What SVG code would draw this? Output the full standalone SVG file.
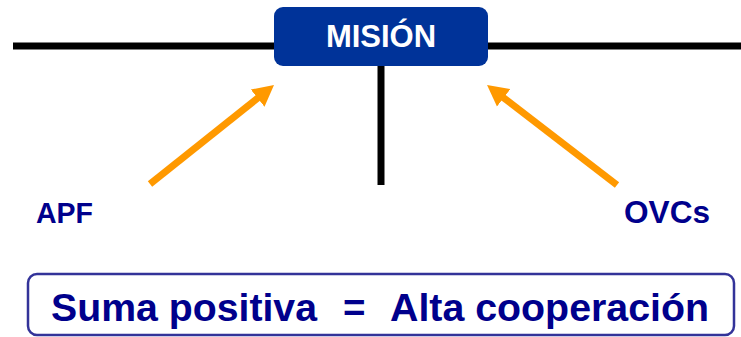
<svg xmlns="http://www.w3.org/2000/svg" width="741" height="337" viewBox="0 0 741 337">
  <style>
    .bar { stroke: #000000; stroke-width: 7; fill: none; }
    .arrow { stroke: #FF9900; stroke-width: 7; fill: none; marker-end: url(#head); }
    .lbl { font-family: "Liberation Sans", Arial, sans-serif; font-weight: bold; fill: #00008C; }
    .big { font-size: 38.5px; }
  </style>
  <defs>
    <marker id="head" markerUnits="userSpaceOnUse" viewBox="0 -12 22 24" markerWidth="22" markerHeight="24" refX="1" refY="0" orient="auto">
      <path d="M0,-11 L21,0 L0,11 z" fill="#FF9900"/>
    </marker>
  </defs>
  <rect width="741" height="337" fill="#FFFFFF"/>
  <g id="connectors">
    <line class="bar" x1="13" y1="46" x2="741" y2="46"/>
    <line class="bar" x1="381" y1="60" x2="381" y2="185"/>
    <line class="arrow" x1="150" y1="184" x2="258.4" y2="97.5"/>
    <line class="arrow" x1="617" y1="185" x2="502.9" y2="97.2"/>
  </g>
  <g id="mision">
    <rect x="274" y="7" width="214" height="59" rx="9" ry="9" fill="#003399"/>
    <text x="381" y="47" text-anchor="middle" font-family="Liberation Sans, Arial, sans-serif" font-weight="bold" font-size="31" fill="#FFFFFF">MISIÓN</text>
  </g>
  <g id="apf">
    <text class="lbl" x="36" y="223" font-size="30" textLength="57" lengthAdjust="spacingAndGlyphs">APF</text>
  </g>
  <g id="ovcs">
    <text class="lbl" x="624" y="223" font-size="30.5" textLength="86" lengthAdjust="spacingAndGlyphs">OVCs</text>
  </g>
  <g id="summary">
    <rect x="28" y="274" width="706" height="61" rx="9" ry="9" fill="#FFFFFF" stroke="#333399" stroke-width="2.5"/>
    <text class="lbl big" x="51" y="321" textLength="266" lengthAdjust="spacingAndGlyphs">Suma positiva</text>
    <text class="lbl big" x="343" y="321">=</text>
    <text class="lbl big" x="390" y="321" textLength="319" lengthAdjust="spacingAndGlyphs">Alta cooperación</text>
  </g>
</svg>
